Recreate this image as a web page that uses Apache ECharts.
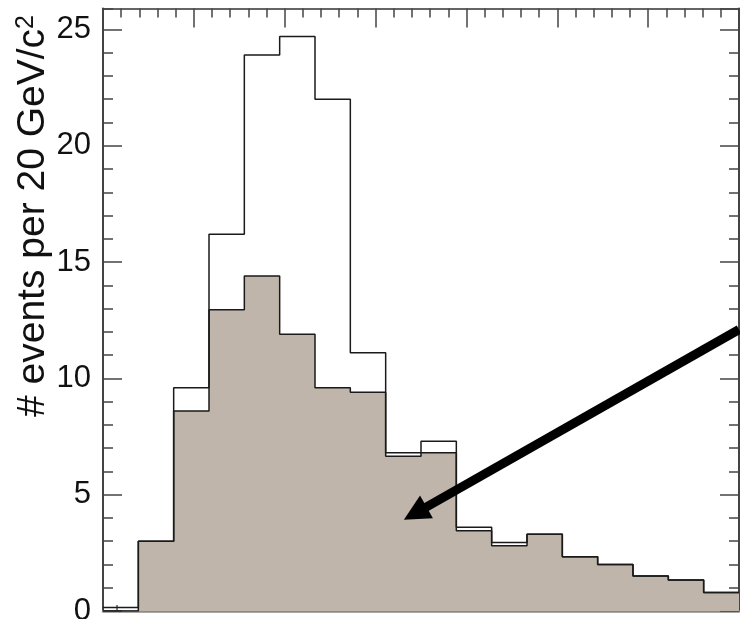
<!DOCTYPE html>
<html>
<head>
<meta charset="utf-8">
<script src="https://cdn.jsdelivr.net/npm/echarts@6/dist/echarts.min.js"></script>
<style>
  html, body { margin: 0; padding: 0; background: #ffffff; }
  #chart { width: 740px; height: 619px; }
</style>
</head>
<body>
<div id="chart"></div>
<script>
// Histogram bins: lower edge of each 20 GeV/c^2 bin
const binLow = [0, 20, 40, 60, 80, 100, 120, 140, 160, 180, 200, 220, 240, 260, 280, 300, 320, 340];
const binWidth = 20;
// Outlined (total) histogram
const totalCounts = [0.15, 3.0, 9.6, 16.2, 23.9, 24.7, 22.0, 11.1, 6.8, 7.3, 3.6, 2.95, 3.3, 2.33, 2.0, 1.5, 1.33, 0.8];
// Shaded histogram
const shadedCounts = [0, 3.0, 8.6, 12.95, 14.4, 11.9, 9.6, 9.4, 6.65, 6.8, 3.45, 2.8, 3.3, 2.33, 2.0, 1.5, 1.33, 0.8];
// Y tick labels
const yTicks = [0, 5, 10, 15, 20, 25];
// Arrow annotation endpoints (data coordinates)
const arrowFrom = [360, 12.1];
const arrowTo = [176.7, 4.2];

const xMin = binLow[0];
const xMax = binLow[binLow.length - 1] + binWidth;
const yMax = 25.9;

function stepPoints(counts) {
  const pts = binLow.map((x, i) => [x, counts[i]]);
  pts.push([xMax, counts[counts.length - 1]]);
  return pts;
}

const axisDark = '#444';
const lineDark = '#1a1a1a';
const fillColor = '#bfb5ab';

const chart = echarts.init(document.getElementById('chart'), null, { renderer: 'canvas' });

chart.setOption({
  animation: false,
  backgroundColor: '#ffffff',
  grid: { left: 103, right: 1, top: 8.5, bottom: 8, outerBoundsMode: 'none' },
  xAxis: [
    {
      // bottom axis carrying the histogram
      type: 'value', position: 'bottom', min: xMin, max: xMax,
      axisLine: { show: true, onZero: false, lineStyle: { color: '#8a8a8a', width: 2.5 } },
      axisTick: { show: true, inside: true, length: 6, customValues: [8], lineStyle: { color: '#555', width: 1.5 } },
      axisLabel: { show: false }, splitLine: { show: false }
    },
    {
      // top frame, major ticks
      type: 'value', position: 'top', min: 0, max: 35, interval: 5,
      axisLine: { show: true, onZero: false, lineStyle: { color: '#333', width: 1.5 } },
      axisTick: { show: true, inside: true, length: 19, lineStyle: { color: axisDark, width: 1.5 } },
      axisLabel: { show: false }, splitLine: { show: false }
    },
    {
      // top frame, minor ticks
      type: 'value', position: 'top', min: 0, max: 35, interval: 1,
      axisLine: { show: false, onZero: false },
      axisTick: { show: true, inside: true, length: 9, lineStyle: { color: axisDark, width: 1.5 } },
      axisLabel: { show: false }, splitLine: { show: false }
    }
  ],
  yAxis: [
    {
      type: 'value', position: 'left', min: 0, max: yMax, interval: 5,
      axisLine: { show: true, onZero: false, lineStyle: { color: axisDark, width: 2 } },
      axisTick: { show: true, inside: true, length: 19, lineStyle: { color: axisDark, width: 1.5 } },
      axisLabel: {
        show: true, margin: 12, showMaxLabel: false,
        fontFamily: 'Liberation Sans', fontSize: 31, color: '#111',
        formatter: v => (yTicks.indexOf(v) >= 0 ? String(v) : '')
      },
      splitLine: { show: false }
    },
    {
      type: 'value', position: 'left', min: 0, max: yMax, interval: 1,
      axisLine: { show: false, onZero: false },
      axisTick: { show: true, inside: true, length: 10, lineStyle: { color: axisDark, width: 1.5 } },
      axisLabel: { show: false }, splitLine: { show: false }
    },
    {
      type: 'value', position: 'right', min: 0, max: yMax, interval: 5,
      axisLine: { show: true, onZero: false, lineStyle: { color: axisDark, width: 2 } },
      axisTick: { show: true, inside: true, length: 19, lineStyle: { color: axisDark, width: 1.5 } },
      axisLabel: { show: false }, splitLine: { show: false }
    },
    {
      type: 'value', position: 'right', min: 0, max: yMax, interval: 1,
      axisLine: { show: false, onZero: false },
      axisTick: { show: true, inside: true, length: 10, lineStyle: { color: axisDark, width: 1.5 } },
      axisLabel: { show: false }, splitLine: { show: false }
    }
  ],
  series: [
    {
      name: 'total',
      type: 'line', xAxisIndex: 0, yAxisIndex: 0,
      step: 'end', symbol: 'none', silent: true,
      lineStyle: { color: lineDark, width: 1.5 },
      data: stepPoints(totalCounts)
    },
    {
      name: 'shaded',
      type: 'line', xAxisIndex: 0, yAxisIndex: 0,
      step: 'end', symbol: 'none', silent: true,
      lineStyle: { color: lineDark, width: 1.5 },
      areaStyle: { color: fillColor, opacity: 1, origin: 'start' },
      data: stepPoints(shadedCounts),
      markLine: {
        silent: true,
        symbol: ['none', 'triangle'],
        symbolSize: 26,
        label: { show: false },
        lineStyle: { color: '#000', width: 9, type: 'solid' },
        data: [[{ coord: arrowFrom }, { coord: arrowTo }]]
      }
    }
  ],
  graphic: [
    {
      type: 'text',
      x: 33, y: 216,
      rotation: Math.PI / 2,
      style: {
        text: '{t|# events per 20 GeV/c}{s|2}',
        align: 'center', verticalAlign: 'middle',
        fill: '#111',
        rich: {
          t: { fontFamily: 'Liberation Sans', fontSize: 39, fill: '#111' },
          s: { fontFamily: 'Liberation Sans', fontSize: 25, fill: '#111', verticalAlign: 'top' }
        }
      }
    }
  ]
});
</script>
</body>
</html>
